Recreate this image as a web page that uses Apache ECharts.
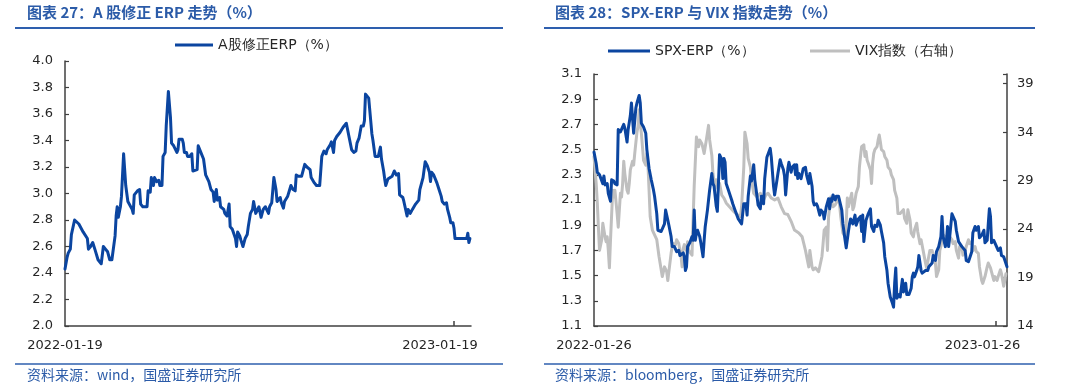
<!DOCTYPE html>
<html>
<head>
<meta charset="utf-8">
<script src="https://cdn.jsdelivr.net/npm/echarts@6/dist/echarts.min.js"></script>
<style>html,body{margin:0;padding:0;background:#fff}#c{width:1080px;height:388px}</style>
</head>
<body>
<div id="c"></div>
<script>
// ---------- Chart 27: A股修正ERP（%） ----------
const erpStart = '2022-01-19';
const erpAxisDays = 382;               // calendar days shown on the x axis
const erpTicks = ['2022-01-19', '2023-01-19'];
// days since 2022-01-19
const erpDay = [0,2,3,5,6,7,9,13,17,21,22,24,26,28,31,34,36,38,40,42,44,47,48,49,50,52,53,55,57,59,63,64,65,68,70,71,73,77,78,80,81,83,84,86,88,89,91,92,94,95,97,99,100,102,105,106,107,110,111,112,114,115,117,119,120,124,125,127,128,130,132,135,137,139,140,142,143,145,146,149,150,152,154,155,157,160,161,162,164,165,167,169,171,172,174,176,177,179,182,184,186,188,191,192,194,196,198,199,202,203,205,206,209,210,212,214,216,217,219,222,225,227,230,231,234,236,239,241,243,245,246,249,250,252,253,255,258,261,264,265,267,269,271,273,274,276,278,280,281,282,285,286,288,289,291,292,294,296,297,299,300,301,303,307,309,311,313,314,317,318,321,322,324,326,329,332,333,336,338,340,342,343,344,346,349,351,353,354,356,358,359,361,362,364,365,366,368,372,377,378,379,380];
const erpVal = [2.43,2.52,2.55,2.58,2.69,2.68,2.80,2.77,2.71,2.66,2.58,2.60,2.63,2.58,2.50,2.47,2.60,2.58,2.56,2.50,2.50,2.68,2.83,2.90,2.82,2.90,2.98,3.30,3.06,2.94,2.88,2.85,2.99,3.02,3.03,2.92,2.90,2.90,3.02,3.01,3.12,3.06,3.12,3.09,3.10,3.06,3.06,3.28,3.31,3.51,3.77,3.57,3.38,3.36,3.31,3.33,3.41,3.41,3.38,3.31,3.31,3.28,3.28,3.30,3.17,3.18,3.36,3.32,3.31,3.26,3.14,3.09,3.03,3.01,2.94,3.03,2.95,2.97,2.90,2.88,2.85,2.83,2.92,2.75,2.73,2.66,2.60,2.71,2.68,2.65,2.60,2.66,2.69,2.75,2.85,2.88,2.94,2.85,2.90,2.82,2.88,2.90,2.85,2.90,2.93,3.12,3.03,2.94,2.97,2.93,2.89,2.94,2.98,2.99,3.06,3.03,3.02,3.14,3.13,3.13,3.22,3.20,3.18,3.12,3.08,3.06,3.06,3.28,3.32,3.30,3.33,3.37,3.39,3.31,3.40,3.43,3.46,3.50,3.53,3.54,3.41,3.33,3.31,3.32,3.38,3.42,3.51,3.51,3.55,3.75,3.72,3.71,3.45,3.40,3.28,3.27,3.28,3.35,3.26,3.17,3.11,3.06,3.11,3.13,3.17,3.14,3.15,2.99,2.97,2.94,2.83,2.88,2.85,2.88,2.92,2.95,3.03,3.12,3.24,3.21,3.16,3.09,3.16,3.14,3.08,3.03,2.98,2.94,2.92,2.93,2.88,2.82,2.78,2.78,2.74,2.66,2.66,2.66,2.66,2.70,2.63,2.66];

// ---------- Chart 28: SPX-ERP 与 VIX ----------
const spxStart = '2022-01-26';
const spxAxisDays = 376;
const spxTicks = ['2022-01-26', '2023-01-26'];
// days since 2022-01-26
const spxDay = [0,2,3,5,6,8,9,10,12,13,15,16,18,19,21,22,24,25,27,28,30,31,33,34,36,37,38,39,41,42,43,44,45,47,48,50,52,54,55,56,57,58,61,62,64,65,67,68,70,71,73,75,77,78,81,82,83,84,85,87,89,90,91,92,93,94,96,97,99,100,101,103,104,105,107,108,109,111,112,113,114,116,117,118,119,120,122,123,125,126,128,129,131,134,136,138,139,140,142,143,145,146,148,149,151,152,154,155,157,158,160,161,163,164,166,167,169,170,172,173,174,176,177,179,180,182,183,184,185,186,188,190,192,193,195,196,198,199,200,202,203,205,206,208,209,211,213,214,215,216,217,219,220,222,223,225,226,228,229,231,232,233,235,237,238,240,242,243,244,245,247,249,251,252,254,255,257,258,260,261,263,264,266,267,269,271,272,273,274,275,277,278,280,281,283,284,286,288,289,290,291,293,294,295,297,298,301,303,304,307,308,310,311,313,315,316,317,319,320,321,322,323,325,326,328,329,331,332,334,335,337,338,340,341,343,344,346,347,349,350,352,354,355,357,358,359,360,361,363,364,366,367,369,370,372,373,375];
const spxVal = [2.48,2.39,2.32,2.30,2.31,2.23,2.29,2.22,2.23,2.15,2.09,2.26,2.25,2.23,2.22,2.66,2.64,2.64,2.70,2.67,2.56,2.66,2.77,2.87,2.63,2.73,2.83,2.87,2.93,2.87,2.71,2.70,2.68,2.63,2.50,2.35,2.26,2.18,2.13,2.14,1.99,1.86,1.85,1.85,1.91,2.02,1.94,1.90,1.81,1.73,1.73,1.69,1.70,1.66,1.68,1.65,1.54,1.57,1.73,1.76,1.81,1.78,2.02,1.78,1.84,1.86,1.81,1.76,1.65,1.78,1.89,2.02,2.10,2.18,2.31,2.23,2.21,2.05,2.01,2.23,2.46,2.42,2.27,2.43,2.40,2.23,2.18,2.17,2.10,2.07,2.02,2.01,1.95,1.91,2.07,2.07,1.98,2.13,2.29,2.25,2.38,2.26,2.13,2.06,2.03,2.13,2.07,2.27,2.44,2.44,2.51,2.44,2.21,2.14,2.25,2.31,2.42,2.39,2.34,2.29,2.14,2.35,2.40,2.32,2.36,2.38,2.30,2.38,2.27,2.31,2.27,2.35,2.36,2.30,2.23,2.31,2.21,2.09,2.06,2.07,2.05,1.98,2.02,2.00,1.95,2.05,2.11,2.03,2.11,2.09,2.14,2.10,2.13,2.13,2.13,2.02,1.91,1.78,1.72,1.85,1.91,1.95,1.91,1.98,1.90,1.95,1.97,1.85,1.98,1.77,1.94,1.99,2.03,1.89,1.85,1.90,1.89,1.94,1.90,1.85,1.76,1.65,1.54,1.44,1.33,1.28,1.25,1.44,1.56,1.32,1.35,1.33,1.47,1.37,1.44,1.35,1.35,1.40,1.49,1.52,1.49,1.54,1.57,1.66,1.54,1.52,1.54,1.54,1.57,1.60,1.66,1.62,1.69,1.73,1.81,1.97,1.81,1.73,1.77,1.89,1.73,1.81,1.99,1.98,1.93,1.86,1.77,1.76,1.73,1.74,1.70,1.62,1.61,1.62,1.69,1.84,1.89,1.86,1.89,1.80,1.82,1.86,1.76,1.78,1.91,2.03,1.97,1.76,1.78,1.76,1.72,1.70,1.72,1.66,1.65,1.64,1.57];
const vixDay = [0,2,3,4,5,7,8,10,11,12,13,14,15,17,18,19,21,22,24,25,26,27,28,30,31,32,33,35,36,37,39,40,41,42,43,44,45,47,48,49,50,51,53,54,55,56,57,59,61,62,63,64,66,67,68,70,71,72,74,75,77,78,79,80,81,82,84,85,86,87,89,90,91,93,94,95,96,98,100,102,104,105,107,108,110,111,114,116,118,120,123,127,130,133,134,136,137,139,140,142,143,145,148,151,154,156,158,161,164,167,170,173,176,179,182,186,189,192,193,195,196,198,199,201,202,204,205,207,208,209,211,212,213,214,215,217,218,219,220,222,223,224,225,226,228,229,230,231,232,234,235,236,237,238,240,241,242,243,245,246,247,248,249,251,252,253,254,255,257,258,259,260,261,263,264,266,267,269,270,272,273,275,276,278,279,281,282,284,285,287,288,290,291,293,294,296,297,299,301,302,304,305,307,308,310,311,313,314,316,317,319,320,322,323,325,326,328,329,331,332,334,335,337,338,340,341,343,344,346,347,349,350,352,353,355,357,358,360,361,363,364,366,367,369,370,372,373,374];
const vixVal = [31.5,28.7,26.7,24.2,21.8,22.9,24.6,23.2,22.7,23.2,21.8,20.0,22.9,28.0,27.3,28.0,25.6,24.2,27.7,27.3,28.7,31.0,29.7,28.0,27.7,28.7,30.1,31.0,30.6,31.8,34.0,34.6,36.3,34.9,33.9,32.5,31.1,30.6,31.8,30.6,28.0,25.3,23.9,23.7,23.4,23.2,22.9,21.2,19.8,19.1,19.1,20.1,19.6,18.7,18.6,21.5,22.2,22.5,22.4,22.9,22.5,21.8,21.2,20.1,22.0,22.4,21.8,22.7,21.8,22.0,21.3,25.0,28.5,33.5,33.0,32.5,33.2,32.8,31.8,33.2,34.7,33.2,31.6,29.7,28.2,29.1,28.7,27.5,27.2,26.7,26.3,25.8,25.5,25.3,26.3,30.4,34.0,32.8,31.3,30.4,29.1,27.7,27.3,27.7,27.0,27.5,27.7,27.2,27.0,27.2,26.3,25.6,25.5,24.8,23.9,23.6,23.2,21.8,21.8,20.1,21.8,20.1,19.8,20.0,19.8,19.6,19.8,21.2,22.5,23.9,24.2,21.8,25.3,26.3,27.3,26.3,26.1,26.5,26.3,27.2,26.5,25.3,25.3,23.6,23.2,24.6,27.2,26.3,26.3,27.7,26.0,26.3,26.3,27.7,28.4,30.4,31.5,32.5,32.7,31.5,32.0,31.1,30.8,30.1,28.7,30.8,31.8,32.2,32.5,33.2,33.7,33.0,32.2,32.0,31.5,31.1,30.4,30.1,29.6,29.1,28.0,27.2,25.6,25.6,25.8,26.0,25.1,24.6,26.0,24.9,23.6,23.2,23.9,24.6,23.7,22.5,22.9,21.7,20.5,20.0,21.2,21.8,21.8,21.3,20.5,19.1,19.8,21.8,22.7,23.4,23.2,22.9,22.5,23.2,22.9,22.5,22.7,21.8,21.0,22.2,22.2,21.3,21.8,22.2,22.9,22.5,22.7,21.8,22.2,21.7,21.5,20.1,18.7,18.4,19.1,20.1,20.5,20.0,20.1,18.7,19.1,18.7,19.1,19.8,19.4,18.1,18.7,19.4];

const erpName = 'A股修正ERP（%）';
const spxName = 'SPX-ERP（%）';
const vixName = 'VIX指数（右轴）';

// ---------- styles ----------
const BLUE = '#0B45A0', GRAY = '#BFBFBF', AX = '#404040', TX = '#262626', TC = '#2B5BA8';
const NUM = '"DejaVu Sans", Verdana, sans-serif';
const CJK = '"Noto Sans CJK SC", "DejaVu Sans", sans-serif';

function dayList(start, n) {
  const t0 = Date.parse(start + 'T00:00:00Z');
  const out = [];
  for (let i = 0; i < n; i++) out.push(new Date(t0 + i * 86400000).toISOString().slice(0, 10));
  return out;
}
const erpCats = dayList(erpStart, erpAxisDays);
const spxCats = dayList(spxStart, spxAxisDays);
const pairs = (days, vals) => days.map((d, i) => [d, vals[i]]);

function xAxisFor(gridIndex, cats, ticks, shift) {
  return {
    type: 'category', gridIndex: gridIndex, data: cats, boundaryGap: false,
    axisLine: { show: true, lineStyle: { color: AX, width: 1.5 } },
    axisTick: { show: true, inside: true, length: 5, interval: (i, v) => v === ticks[1], lineStyle: { color: AX, width: 1.5 } },
    axisLabel: {
      interval: (i, v) => ticks.indexOf(v) >= 0, margin: 13, fontSize: 13, color: TX, fontFamily: NUM,
      formatter: v => v === ticks[1] ? '{s|' + v + '}' : v,
      rich: { s: { padding: [0, shift, 0, 0], fontSize: 13, color: TX, fontFamily: NUM } }
    },
    splitLine: { show: false }
  };
}
function yAxisFor(gridIndex, min, max, interval, digits, pos, margin) {
  return {
    type: 'value', gridIndex: gridIndex, position: pos, min: min, max: max, interval: interval,
    axisLine: { show: true, lineStyle: { color: AX, width: 1.5 } },
    axisTick: { show: true, inside: true, length: 4, lineStyle: { color: AX, width: 1.2 } },
    axisLabel: { margin: margin, fontSize: 13, color: TX, fontFamily: NUM,
      formatter: v => (v > max - 1e-9 && pos === 'right') ? '' : Number(v).toFixed(digits) },
    splitLine: { show: false }
  };
}

const titleRich = {
  c: { fontSize: 15, color: TC, fontFamily: CJK, lineHeight: 18 },
  b: { fontSize: 15, color: TC, fontFamily: CJK, fontWeight: 'bold', lineHeight: 18 }
};
const footStyle = { fontSize: 14, color: TC, fontFamily: CJK, fontWeight: 'normal', lineHeight: 18 };
const legText = { fontSize: 14, color: TX, fontFamily: NUM };

const option = {
  animation: false,
  backgroundColor: '#ffffff',
  title: [
    { text: '{c|图表 }{b|27：A }{c|股修正 }{b|ERP }{c|走势（%）}', left: 27, top: 3, padding: 0, textStyle: { rich: titleRich } },
    { text: '{c|图表 }{b|28：SPX-ERP }{c|与 }{b|VIX }{c|指数走势（%）}', left: 555, top: 3, padding: 0, textStyle: { rich: titleRich } },
    { text: '资料来源：wind，国盛证券研究所', left: 27, top: 366, padding: 0, textStyle: footStyle },
    { text: '资料来源：bloomberg，国盛证券研究所', left: 555, top: 366, padding: 0, textStyle: footStyle }
  ],
  legend: [
    { data: [erpName], left: 175, top: 38, padding: 0, icon: 'rect', itemWidth: 38, itemHeight: 3, textStyle: legText },
    { data: [spxName], left: 608, top: 44, padding: 0, icon: 'rect', itemWidth: 42, itemHeight: 3, textStyle: legText },
    { data: [vixName], left: 810, top: 44, padding: 0, icon: 'rect', itemWidth: 40, itemHeight: 3, textStyle: legText }
  ],
  grid: [
    { left: 65, top: 61, width: 406, height: 265, containLabel: false },
    { left: 594, top: 74, width: 413, height: 252, containLabel: false }
  ],
  xAxis: [
    xAxisFor(0, erpCats, erpTicks, 28),
    xAxisFor(1, spxCats, spxTicks, 27)
  ],
  yAxis: [
    yAxisFor(0, 2.0, 4.0, 0.2, 1, 'left', 12),
    yAxisFor(1, 1.1, 3.1, 0.2, 1, 'left', 12),
    yAxisFor(1, 14, 40, 5, 0, 'right', 10)
  ],
  series: [
    { type: 'line', name: erpName, xAxisIndex: 0, yAxisIndex: 0, data: pairs(erpDay, erpVal), symbol: 'none',
      color: BLUE, lineStyle: { width: 3, color: BLUE, join: 'round', cap: 'round' }, z: 3 },
    { type: 'line', name: vixName, xAxisIndex: 1, yAxisIndex: 2, data: pairs(vixDay, vixVal), symbol: 'none',
      color: GRAY, lineStyle: { width: 3, color: GRAY, join: 'round', cap: 'round' }, z: 2 },
    { type: 'line', name: spxName, xAxisIndex: 1, yAxisIndex: 1, data: pairs(spxDay, spxVal), symbol: 'none',
      color: BLUE, lineStyle: { width: 3, color: BLUE, join: 'round', cap: 'round' }, z: 3 }
  ],
  graphic: [
    { type: 'line', shape: { x1: 15, y1: 28, x2: 503, y2: 28 }, style: { stroke: '#2E5FAE', lineWidth: 2 } },
    { type: 'line', shape: { x1: 544, y1: 28, x2: 1035, y2: 28 }, style: { stroke: '#2E5FAE', lineWidth: 2 } },
    { type: 'line', shape: { x1: 15, y1: 364, x2: 503, y2: 364 }, style: { stroke: '#2E5FAE', lineWidth: 1.5 } },
    { type: 'line', shape: { x1: 544, y1: 364, x2: 1035, y2: 364 }, style: { stroke: '#2E5FAE', lineWidth: 1.5 } }
  ]
};

const chart = echarts.init(document.getElementById('c'), null, { renderer: 'canvas' });
chart.setOption(option);
</script>
</body>
</html>
